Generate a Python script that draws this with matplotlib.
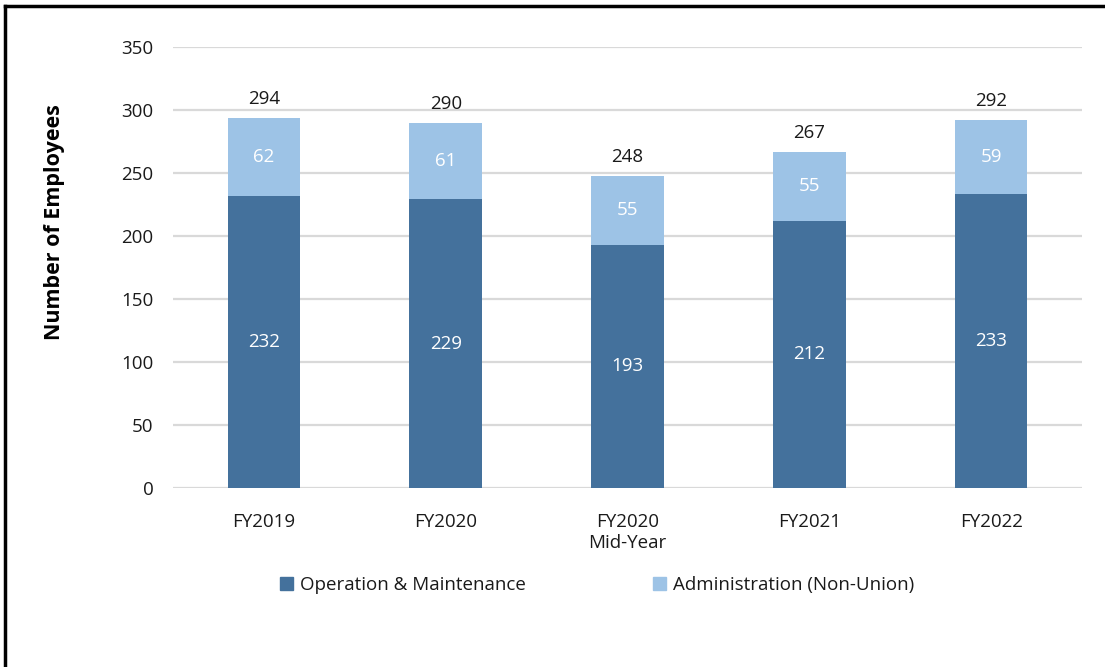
import matplotlib
matplotlib.use("Agg")
import matplotlib.pyplot as plt
from matplotlib.patches import Rectangle
from matplotlib.lines import Line2D
import numpy as np

categories = ["FY2019", "FY2020", "FY2020\nMid-Year", "FY2021", "FY2022"]
om_values = [232, 229, 193, 212, 233]
admin_values = [62, 61, 55, 55, 59]
series_names = ["Operation & Maintenance", "Administration (Non-Union)"]
y_ticks = [0, 50, 100, 150, 200, 250, 300, 350]

dark = "#44719c"
light = "#9dc3e6"
grid_c = "#d9d9d9"
text_c = "#1a1a1a"

plt.rcParams['font.family'] = ['Open Sans', 'DejaVu Sans']

W, H = 1105, 667
fig = plt.figure(figsize=(W / 100, H / 100), dpi=100)
ax = fig.add_axes([173 / W, 1 - 488 / H, (1082 - 173) / W, (488 - 47) / H])

x = np.arange(len(categories))
totals = [a + b for a, b in zip(om_values, admin_values)]
bw = 0.40
fs = 13.5
ax.bar(x, om_values, width=bw, color=dark, zorder=3)
ax.bar(x, admin_values, width=bw, bottom=om_values, color=light, zorder=3)

for i in range(len(x)):
    ax.text(x[i], om_values[i] / 2, str(om_values[i]), ha="center", va="center",
            color="white", fontsize=fs, zorder=4)
    ax.text(x[i], om_values[i] + admin_values[i] / 2, str(admin_values[i]),
            ha="center", va="center", color="white", fontsize=fs, zorder=4)
    ax.annotate(str(totals[i]), (x[i], totals[i]), xytext=(0, 7),
                textcoords="offset points", ha="center", va="bottom",
                color=text_c, fontsize=fs)

ax.set_xlim(-0.5, len(categories) - 0.5)
ax.set_ylim(0, 350)
ax.set_yticks(y_ticks)
ax.set_xticks(x)
ax.set_xticklabels(categories, linespacing=1.25)
ax.tick_params(axis="both", length=0, labelsize=fs, colors=text_c)
ax.tick_params(axis="y", pad=14)
ax.tick_params(axis="x", pad=18)
ax.yaxis.grid(True, color=grid_c, linewidth=1.6, zorder=0)
for s in ax.spines.values():
    s.set_visible(False)

fig.text(55 / W, 1 - 222 / H, "Number of Employees", rotation=90, ha="center",
         va="center", fontsize=15.5, fontweight="bold", color="black")

handles = [Rectangle((0, 0), 1, 1, color=dark), Rectangle((0, 0), 1, 1, color=light)]
fig.legend(handles, series_names, loc="center", bbox_to_anchor=(597 / W, 1 - 585 / H),
           ncol=2, frameon=False, fontsize=fs, handlelength=0.7, handleheight=0.7,
           handletextpad=0.35, columnspacing=6.8, labelcolor=text_c)

# border frame (top and left)
fig.add_artist(Line2D([5 / W, 1], [1 - 6 / H, 1 - 6 / H], color="black", linewidth=2.5,
                      transform=fig.transFigure))
fig.add_artist(Line2D([5 / W, 5 / W], [0, 1 - 6 / H], color="black", linewidth=2.5,
                      transform=fig.transFigure))

fig.savefig("out.png", dpi=100)
